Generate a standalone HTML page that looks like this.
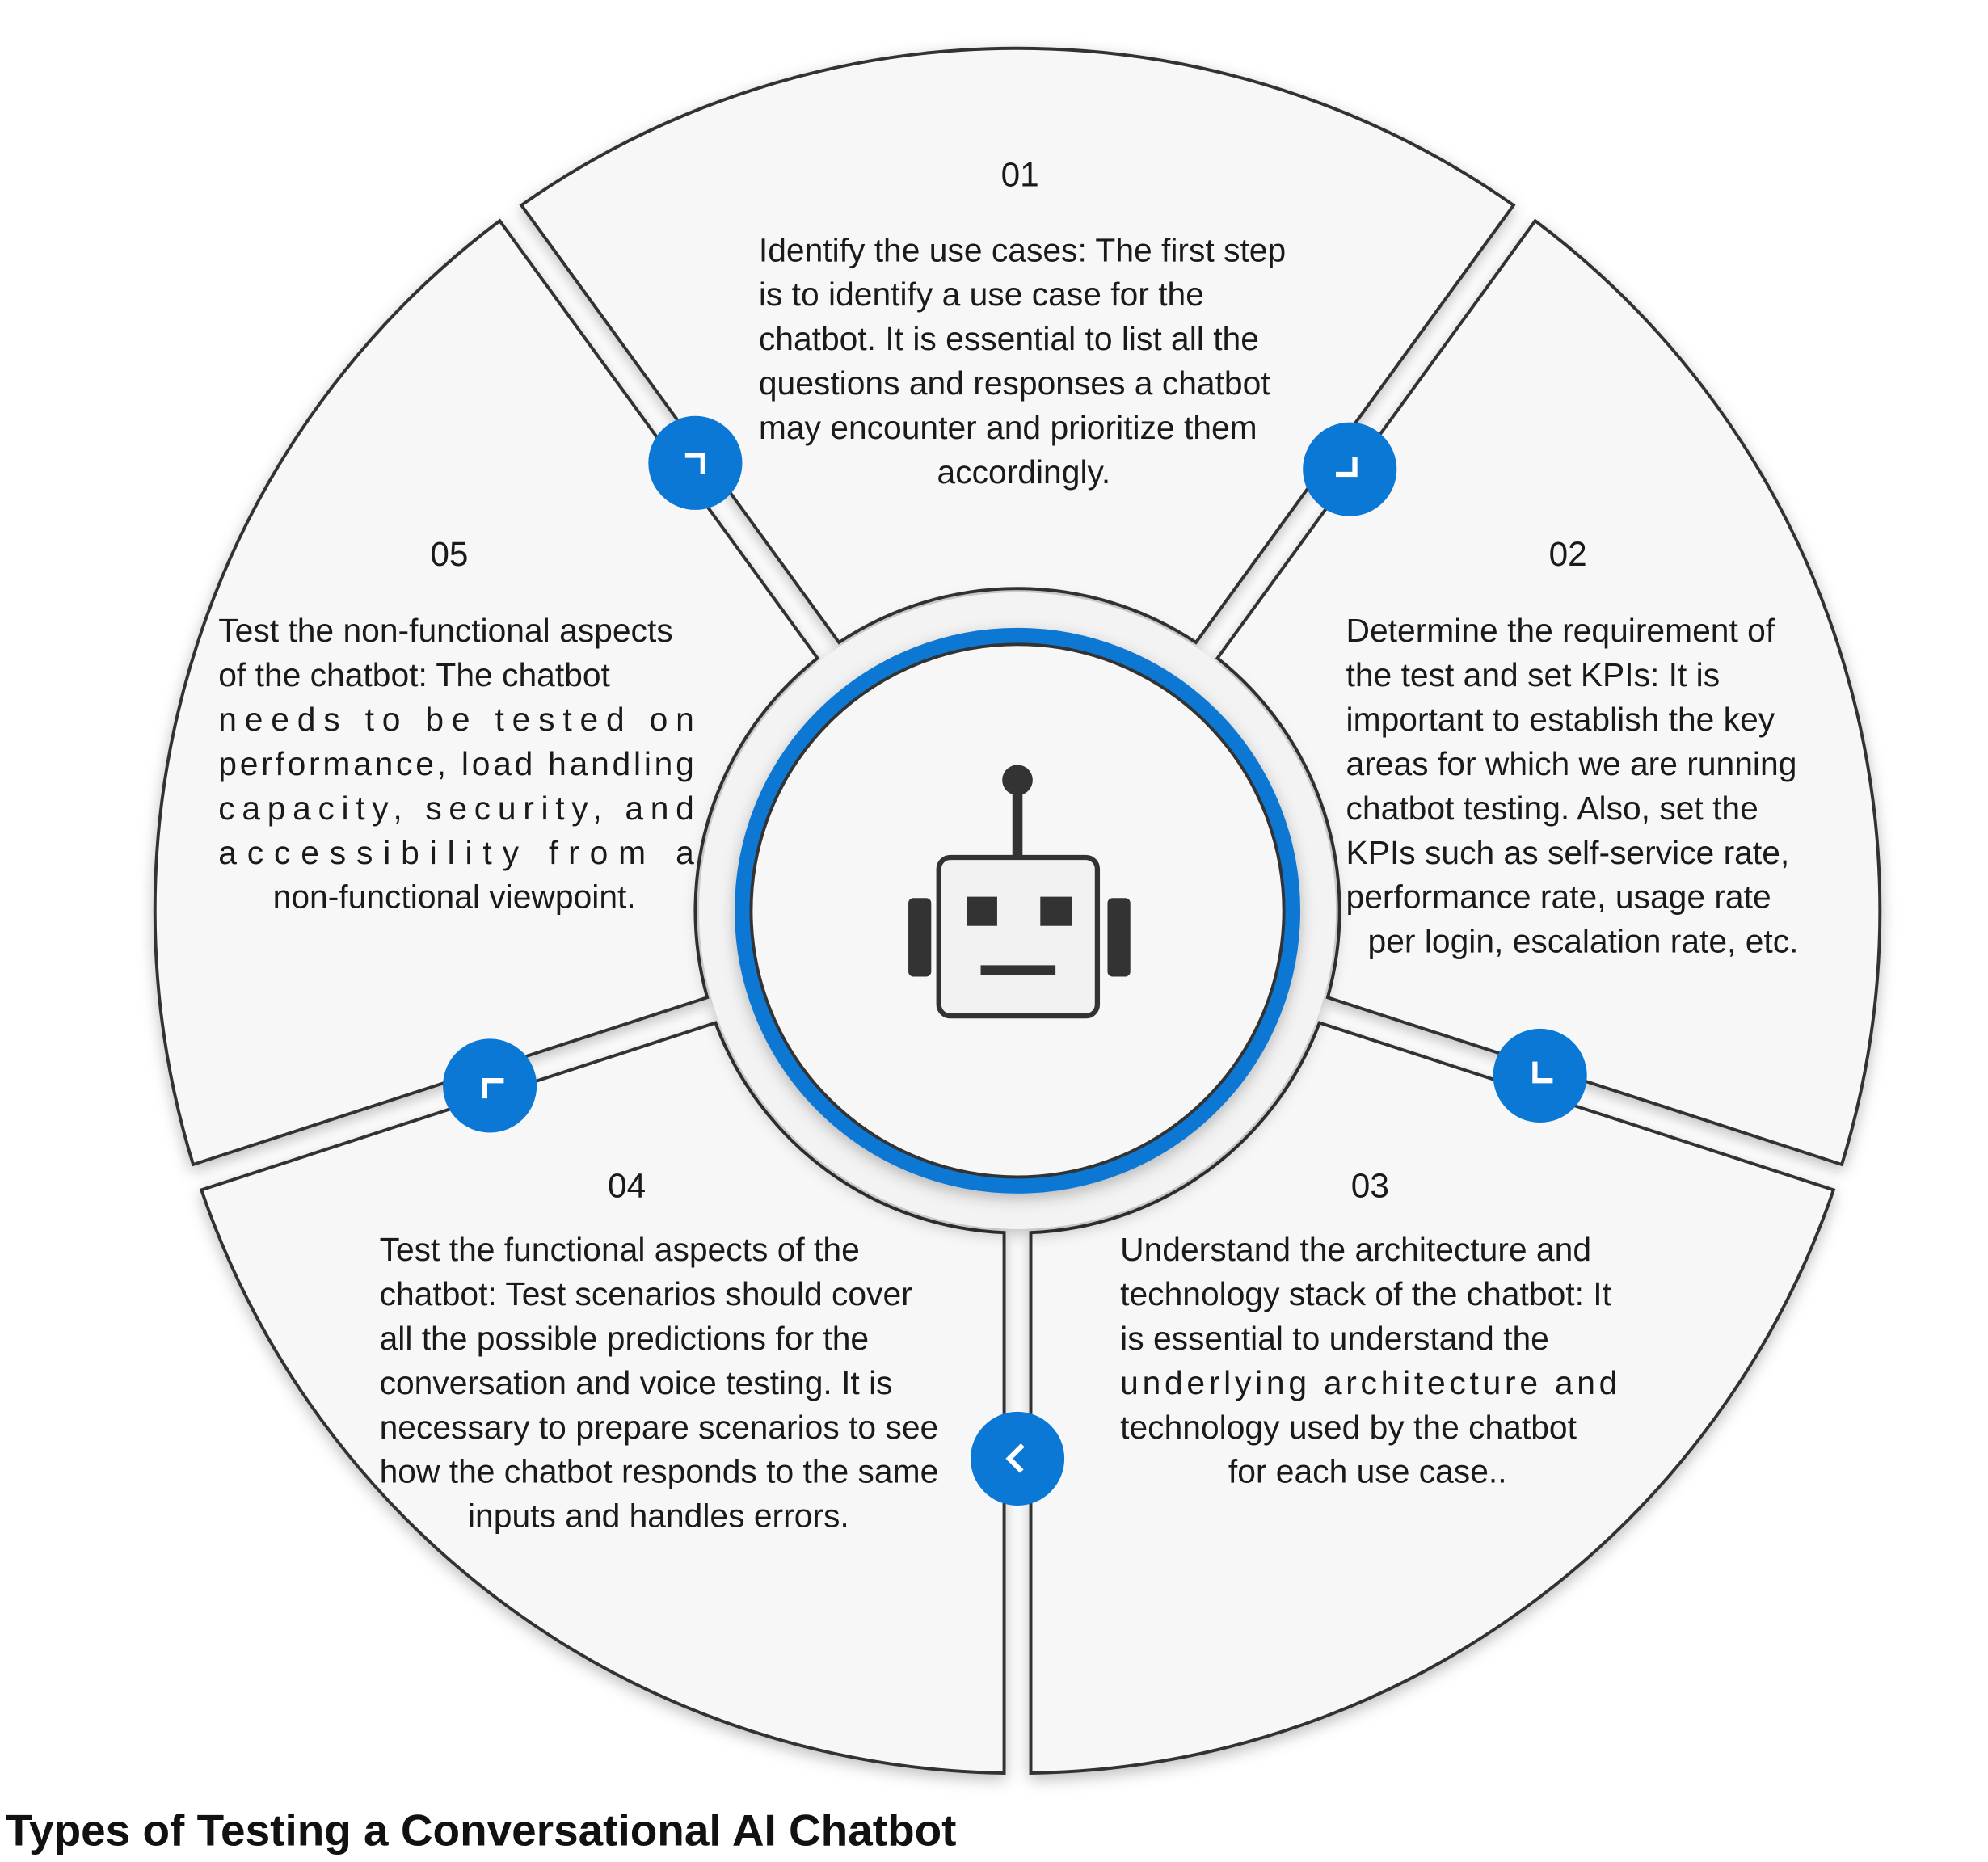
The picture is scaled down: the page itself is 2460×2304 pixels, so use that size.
<!DOCTYPE html>
<html><head><meta charset="utf-8">
<style>
html,body{margin:0;padding:0;background:#fff;}
svg{display:block;}
text{font-family:"Liberation Sans",Arial,sans-serif;fill:#1a1a1a;}
.t{font-size:26px;}
.n{font-size:27px;}
</style></head>
<body>
<svg width="2460" height="2304" viewBox="0 0 1567 1468" xmlns="http://www.w3.org/2000/svg">
<defs>
<filter id="sh" x="-20%" y="-20%" width="140%" height="140%">
<feDropShadow dx="0" dy="4" stdDeviation="6" flood-color="#000" flood-opacity="0.25"/>
</filter>
</defs>
<g fill="#f7f7f7" stroke="#333" stroke-width="2.5" filter="url(#sh)">
<path d="M410.9,161.8 A680,680 0 0 1 1193.1,161.8 L942.7,506.5 A254,254 0 0 0 661.3,506.5 Z"/>
<path d="M1210.2,174.1 A680,680 0 0 1 1451.9,918.1 L1046.6,786.4 A254,254 0 0 0 959.7,518.9 Z"/>
<path d="M1445.4,938.1 A680,680 0 0 1 812.5,1397.9 L812.5,971.8 A254,254 0 0 0 1040.1,806.4 Z"/>
<path d="M791.5,1397.9 A680,680 0 0 1 158.6,938.1 L563.9,806.4 A254,254 0 0 0 791.5,971.8 Z"/>
<path d="M152.1,918.1 A680,680 0 0 1 393.8,174.1 L644.3,518.9 A254,254 0 0 0 557.4,786.4 Z"/>
</g>
<circle cx="802" cy="718" r="251" fill="#f3f3f3" filter="url(#sh)"/>
<circle cx="802" cy="718" r="217" fill="#f7f7f7" stroke="#0a78d4" stroke-width="12" filter="url(#sh)"/>
<circle cx="802" cy="718" r="210" fill="#f7f7f7" stroke="#333" stroke-width="2.5"/>
<circle cx="802" cy="615" r="12" fill="#333"/>
<rect x="798" y="615" width="8" height="62" fill="#333"/>
<rect x="716" y="708" width="18" height="62" rx="4" fill="#333"/>
<rect x="873" y="708" width="18" height="62" rx="4" fill="#333"/>
<rect x="740" y="676" width="125" height="125" rx="9" fill="#f2f2f2" stroke="#333" stroke-width="4"/>
<rect x="762" y="707" width="24" height="23" fill="#333"/>
<rect x="820" y="707" width="25" height="23" fill="#333"/>
<rect x="773" y="761" width="59" height="8" fill="#333"/>
<g fill="#0a78d4">
<circle cx="548" cy="365" r="37"/>
<circle cx="1064" cy="370" r="37"/>
<circle cx="1214" cy="848" r="37"/>
<circle cx="802" cy="1150" r="37"/>
<circle cx="386" cy="856" r="37"/>
</g>
<g fill="none" stroke="#fff" stroke-width="4">
<path transform="translate(548,365)" d="M-8,-6 L6,-6 L6,9"/>
<path transform="translate(1062,368) rotate(90)" d="M-8,-6 L6,-6 L6,9"/>
<path transform="translate(1216,846) rotate(180)" d="M-8,-6 L6,-6 L6,9"/>
<path transform="translate(804,1150) rotate(225)" d="M-8,-6 L6,-6 L6,9"/>
<path transform="translate(388,858) rotate(270)" d="M-8,-6 L6,-6 L6,9"/>
</g>
<text class="n" x="804" y="147" text-anchor="middle">01</text>
<text class="t" x="598" y="206">Identify the use cases: The first step</text>
<text class="t" x="598" y="241">is to identify a use case for the</text>
<text class="t" x="598" y="276">chatbot. It is essential to list all the</text>
<text class="t" x="598" y="311">questions and responses a chatbot</text>
<text class="t" x="598" y="346">may encounter and prioritize them</text>
<text class="t" x="807" y="381" text-anchor="middle">accordingly.</text>
<text class="n" x="1236" y="446" text-anchor="middle">02</text>
<text class="t" x="1061" y="506">Determine the requirement of</text>
<text class="t" x="1061" y="541">the test and set KPIs: It is</text>
<text class="t" x="1061" y="576">important to establish the key</text>
<text class="t" x="1061" y="611">areas for which we are running</text>
<text class="t" x="1061" y="646">chatbot testing. Also, set the</text>
<text class="t" x="1061" y="681">KPIs such as self-service rate,</text>
<text class="t" x="1061" y="716">performance rate, usage rate</text>
<text class="t" x="1248" y="751" text-anchor="middle">per login, escalation rate, etc.</text>
<text class="n" x="354" y="446" text-anchor="middle">05</text>
<text class="t" x="172" y="506">Test the non-functional aspects</text>
<text class="t" x="172" y="541">of the chatbot: The chatbot</text>
<text class="t" x="172" y="576" textLength="375" lengthAdjust="spacing">needs to be tested on</text>
<text class="t" x="172" y="611" textLength="375" lengthAdjust="spacing">performance, load handling</text>
<text class="t" x="172" y="646" textLength="375" lengthAdjust="spacing">capacity, security, and</text>
<text class="t" x="172" y="681" textLength="375" lengthAdjust="spacing">accessibility from a</text>
<text class="t" x="358" y="716" text-anchor="middle">non-functional viewpoint.</text>
<text class="n" x="494" y="944" text-anchor="middle">04</text>
<text class="t" x="299" y="994">Test the functional aspects of the</text>
<text class="t" x="299" y="1029">chatbot: Test scenarios should cover</text>
<text class="t" x="299" y="1064">all the possible predictions for the</text>
<text class="t" x="299" y="1099">conversation and voice testing. It is</text>
<text class="t" x="299" y="1134">necessary to prepare scenarios to see</text>
<text class="t" x="299" y="1169">how the chatbot responds to the same</text>
<text class="t" x="519" y="1204" text-anchor="middle">inputs and handles errors.</text>
<text class="n" x="1080" y="944" text-anchor="middle">03</text>
<text class="t" x="883" y="994">Understand the architecture and</text>
<text class="t" x="883" y="1029">technology stack of the chatbot: It</text>
<text class="t" x="883" y="1064">is essential to understand the</text>
<text class="t" x="883" y="1099" textLength="392" lengthAdjust="spacing">underlying architecture and</text>
<text class="t" x="883" y="1134">technology used by the chatbot</text>
<text class="t" x="1078" y="1169" text-anchor="middle">for each use case..</text>
<text x="4" y="1455" style="font-size:35px;font-weight:bold;fill:#111;">Types of Testing a Conversational AI Chatbot</text>
</svg>
</body></html>
